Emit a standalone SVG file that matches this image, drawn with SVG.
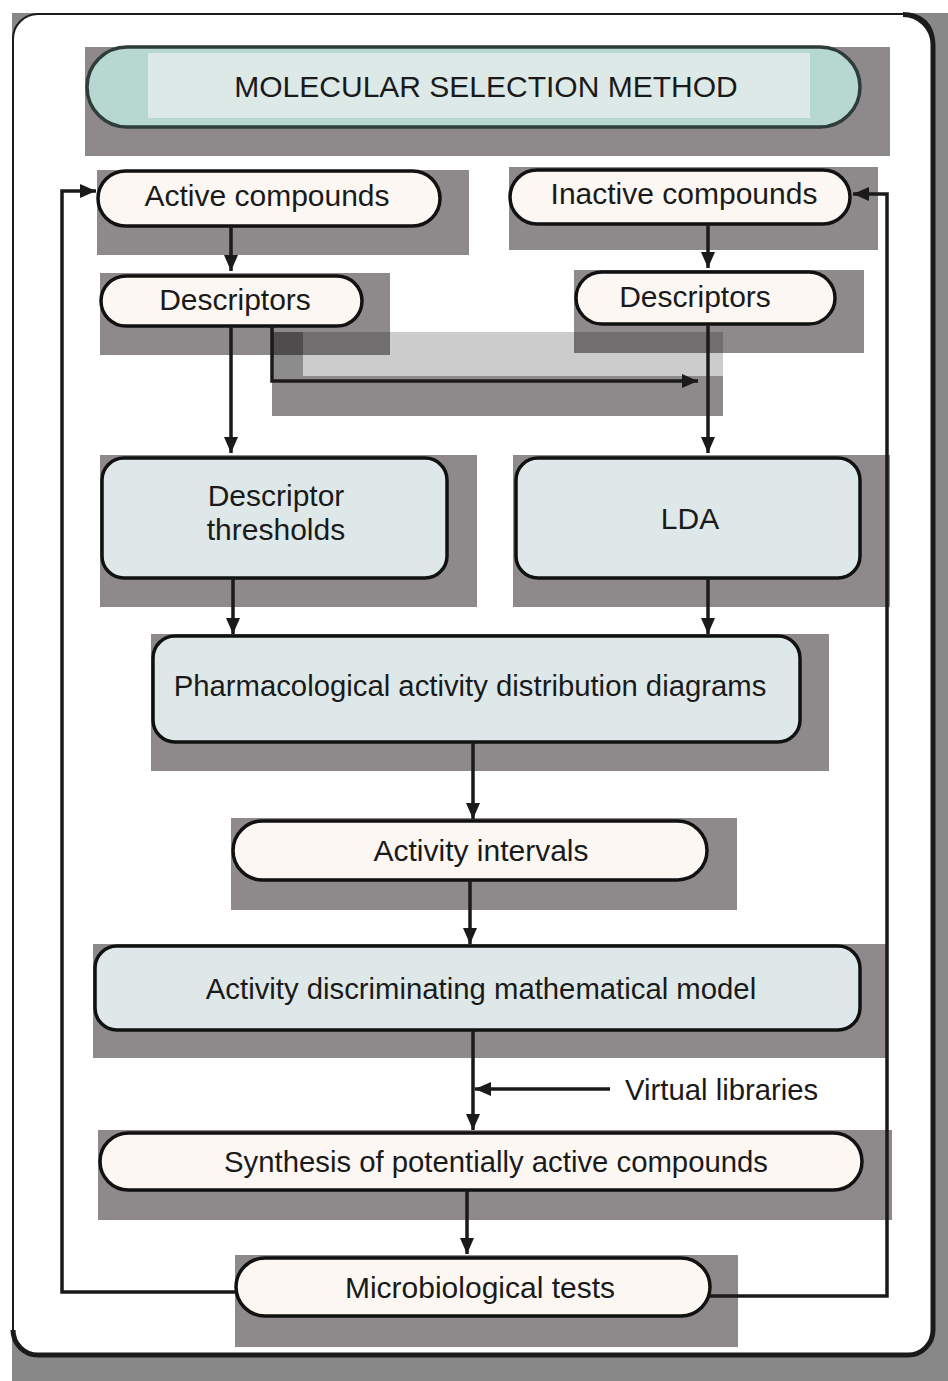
<svg xmlns="http://www.w3.org/2000/svg" width="948" height="1381" viewBox="0 0 948 1381">
<style>
.sh{fill:#8e8a8b}
.pill{fill:#fcf7f2;stroke:#111;stroke-width:3.5}
.box{fill:#dfe8e8;stroke:#111;stroke-width:3.5}
.t{font-family:"Liberation Sans",Arial,sans-serif;font-size:30px;fill:#1a1a1a;text-anchor:middle}
.s{font-size:29.3px}
.c{fill:none;stroke:#1a1a1a;stroke-width:3.5}
</style>
<defs>
<marker id="ah" viewBox="0 0 16 14" refX="16" refY="7" markerWidth="16" markerHeight="14" markerUnits="userSpaceOnUse" orient="auto">
<path d="M0,0 L16,7 L0,14 z" fill="#1a1a1a"/>
</marker>
</defs>
<rect x="0" y="0" width="948" height="1381" fill="#fff"/>
<g id="frame">
<rect x="12" y="13" width="936" height="1368" fill="#888"/>
<rect x="13" y="14" width="920" height="1341" rx="25" fill="#fff" stroke="#1a1a1a" stroke-width="2"/>
<path d="M903 14.5 A30 30 0 0 1 933 44 L933 1330 A25 25 0 0 1 908 1355 L38 1355 A25 25 0 0 1 13 1330" fill="none" stroke="#1a1a1a" stroke-width="5"/>
</g>
<g id="title">
<rect class="sh" x="85" y="47" width="805" height="109"/>
<rect x="87" y="47" width="773" height="80" rx="40" fill="#b6d8d0" stroke="#2e3d3a" stroke-width="3.5"/>
<rect x="148" y="53" width="662" height="65" fill="#dde9e7"/>
<text class="t" x="486" y="97">MOLECULAR SELECTION METHOD</text>
</g>
<g id="active">
<rect class="sh" x="97" y="170" width="372" height="85"/>
<rect class="pill" x="98" y="171" width="342" height="55" rx="27.5"/>
<text class="t" x="267" y="206">Active compounds</text>
</g>
<g id="inactive">
<rect class="sh" x="509" y="167" width="369" height="83"/>
<rect class="pill" x="510" y="170" width="340" height="54" rx="27"/>
<text class="t" x="684" y="204">Inactive compounds</text>
</g>
<g id="descL">
<rect class="sh" x="100" y="273" width="290" height="82"/>
<rect class="pill" x="101" y="276" width="261" height="50" rx="25"/>
<text class="t" x="235" y="310">Descriptors</text>
</g>
<g id="descR">
<rect class="sh" x="574" y="270" width="290" height="83"/>
<rect class="pill" x="576" y="272" width="259" height="52" rx="26"/>
<text class="t" x="695" y="307">Descriptors</text>
</g>
<g id="thresholds">
<rect class="sh" x="100" y="455" width="377" height="152"/>
<rect class="box" x="102" y="458" width="345" height="120" rx="22"/>
<text class="t" x="276" y="506">Descriptor</text>
<text class="t" x="276" y="540">thresholds</text>
</g>
<g id="lda">
<rect class="sh" x="513" y="455" width="377" height="152"/>
<rect class="box" x="516" y="458" width="344" height="120" rx="22"/>
<text class="t" x="690" y="529">LDA</text>
</g>
<g id="pharm">
<rect class="sh" x="151" y="634" width="678" height="137"/>
<rect class="box" x="153" y="636" width="647" height="106" rx="22"/>
<text class="t s" x="470" y="696">Pharmacological activity distribution diagrams</text>
</g>
<g id="intervals">
<rect class="sh" x="231" y="818" width="506" height="92"/>
<rect class="pill" x="233" y="821" width="474" height="59" rx="29.5"/>
<text class="t" x="481" y="861">Activity intervals</text>
</g>
<g id="model">
<rect class="sh" x="93" y="944" width="793" height="114"/>
<rect class="box" x="95" y="946" width="765" height="84" rx="22"/>
<text class="t s" x="481" y="999">Activity discriminating mathematical model</text>
</g>
<g id="virtual">
<text class="t s" x="625" y="1100" style="text-anchor:start">Virtual libraries</text>
</g>
<g id="synthesis">
<rect class="sh" x="98" y="1130" width="794" height="90"/>
<rect class="pill" x="100" y="1133" width="762" height="57" rx="28.5"/>
<text class="t s" x="496" y="1172">Synthesis of potentially active compounds</text>
</g>
<g id="micro">
<rect class="sh" x="235" y="1255" width="503" height="92"/>
<rect class="pill" x="236" y="1258" width="474" height="58" rx="29"/>
<text class="t" x="480" y="1298">Microbiological tests</text>
</g>
<g id="connectors">
<rect x="272" y="332" width="31" height="44" fill="#000" opacity="0.45"/>
<rect x="303" y="332" width="420" height="44" fill="#000" opacity="0.2"/>
<rect x="272" y="376" width="451" height="40" fill="#8e8a8b"/>
<path class="c" marker-end="url(#ah)" d="M231 226 V271"/>
<path class="c" marker-end="url(#ah)" d="M708 224 V268"/>
<path class="c" marker-end="url(#ah)" d="M231 326 V453"/>
<path class="c" marker-end="url(#ah)" d="M272 326 V381 H698"/>
<path class="c" marker-end="url(#ah)" d="M708 324 V453"/>
<path class="c" marker-end="url(#ah)" d="M233 578 V634"/>
<path class="c" marker-end="url(#ah)" d="M708 578 V634"/>
<path class="c" marker-end="url(#ah)" d="M473 742 V819"/>
<path class="c" marker-end="url(#ah)" d="M470 880 V944"/>
<path class="c" marker-end="url(#ah)" d="M473 1030 V1130"/>
<path class="c" marker-end="url(#ah)" d="M610 1089 H475"/>
<path class="c" marker-end="url(#ah)" d="M467 1190 V1254"/>
<path class="c" marker-end="url(#ah)" d="M236 1292 H62 V191 H96"/>
<path class="c" marker-end="url(#ah)" d="M710 1296 H887 V194 H853"/>
</g>
</svg>
